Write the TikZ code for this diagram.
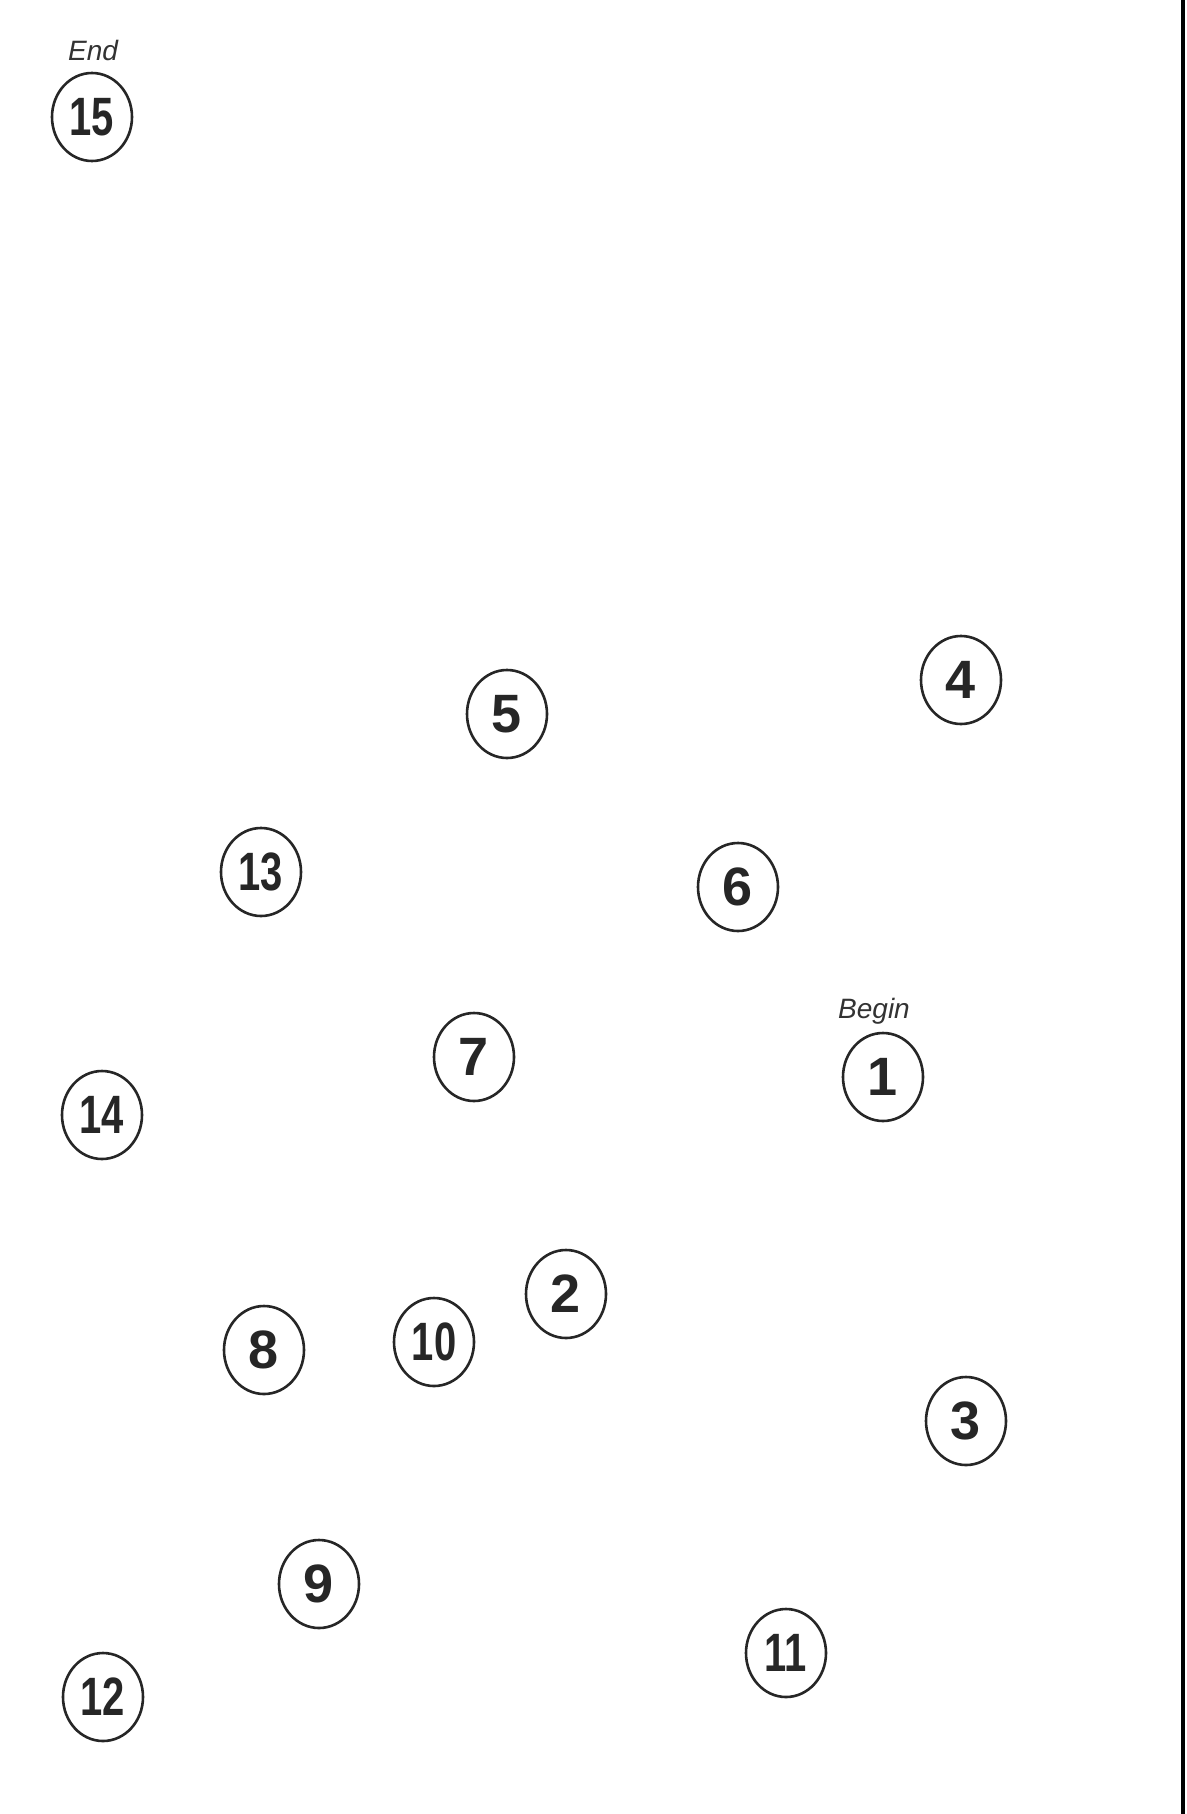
\documentclass[tikz,border=0pt]{standalone}
\usepackage{fontspec}
\setmainfont{Liberation Sans}
\newfontfamily\narrowdigits[FakeStretch=0.74]{Liberation Sans}
\usetikzlibrary{shapes.geometric}
\begin{document}
\begin{tikzpicture}[x=0.5pt,y=-0.5pt,
  num/.style={draw=black!85, line width=1.3pt, ellipse, minimum width=40pt, minimum height=44pt, inner sep=0pt, font=\fontsize{27}{27}\selectfont\bfseries, text=black!85},
  two/.style={num, font=\narrowdigits\fontsize{27}{27}\selectfont\bfseries},
  lbl/.style={font=\fontsize{14}{14}\selectfont\itshape, text=black!80}]
\useasboundingbox (0,0) rectangle (1187,1814);
\fill[white] (0,0) rectangle (1187,1814);
\draw[line width=1.6pt] (1183,0) -- (1183,1814);
\node[two] (n15) at (92,117) {15};
\node[lbl] (end) at (93,50) {End};
\node[num] (n5) at (507,714) {5};
\node[num] (n4) at (961,680) {4};
\node[two] (n13) at (261,872) {13};
\node[num] (n6) at (738,887) {6};
\node[num] (n7) at (474,1057) {7};
\node[num] (n1) at (883,1077) {1};
\node[lbl] (begin) at (874,1011) {Begin};
\node[two] (n14) at (102,1115) {14};
\node[num] (n2) at (566,1294) {2};
\node[two] (n10) at (434,1342) {10};
\node[num] (n8) at (264,1350) {8};
\node[num] (n3) at (966,1421) {3};
\node[num] (n9) at (319,1584) {9};
\node[two] (n11) at (786,1653) {11};
\node[two] (n12) at (103,1697) {12};
\end{tikzpicture}
\end{document}
